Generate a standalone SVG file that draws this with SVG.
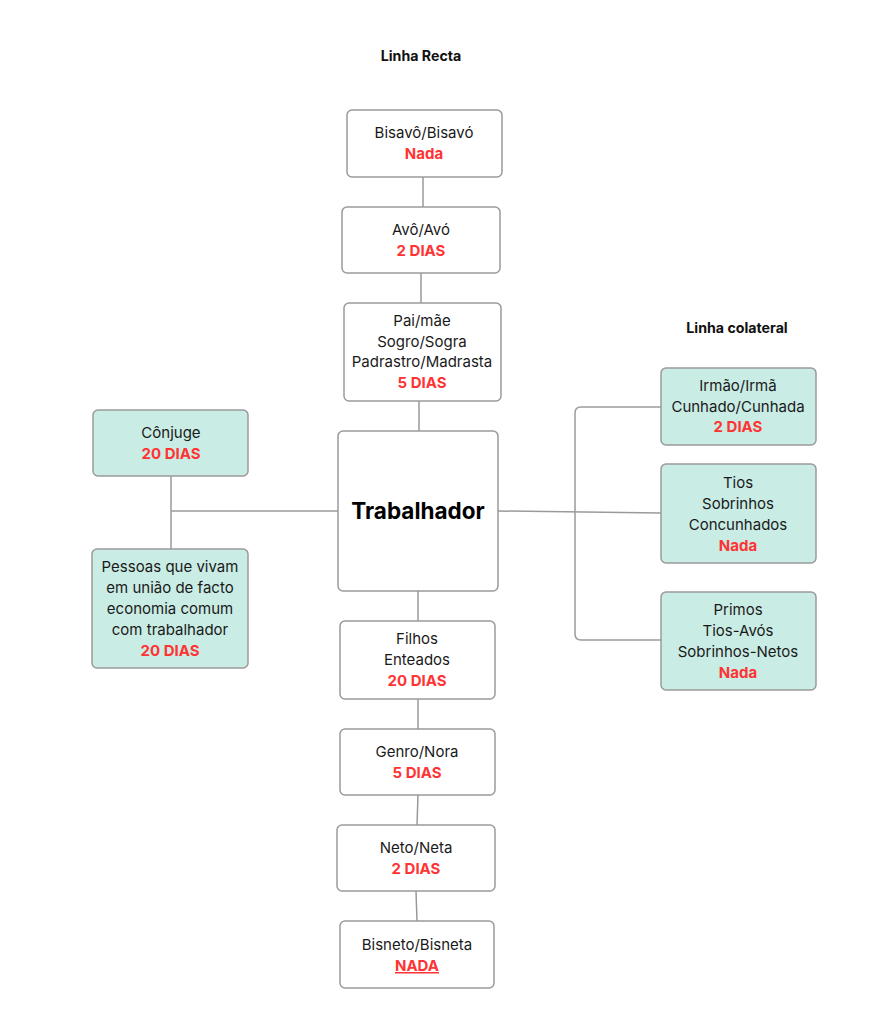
<svg xmlns="http://www.w3.org/2000/svg" width="895" height="1024" viewBox="0 0 895 1024">
<style>
text{font-family:Inter,"Liberation Sans",sans-serif;font-size:15px;fill:#1a1a1a;text-anchor:middle}
.r{fill:#ff3333;font-weight:bold}
.h{font-weight:bold;font-size:14.2px;fill:#111}
.t{font-weight:bold;font-size:22.5px;fill:#000}
.box{fill:#fff;stroke:#9a9a9a;stroke-width:1.5}
.g{fill:#c9ece4;stroke:#9a9a9a;stroke-width:1.5}
#connectors path,#connectors line{stroke:#9a9a9a;stroke-width:1.5;fill:none}
</style>
<rect width="895" height="1024" fill="#fff"/>
<text class="h" x="421" y="61">Linha Recta</text>
<text class="h" x="737" y="333">Linha colateral</text>
<g id="connectors">
<line x1="423" y1="177" x2="423" y2="207"/>
<line x1="421" y1="273" x2="421" y2="303"/>
<line x1="419" y1="401" x2="419" y2="431"/>
<line x1="418" y1="591" x2="418" y2="621"/>
<line x1="418" y1="699" x2="418" y2="729"/>
<line x1="418" y1="795" x2="417" y2="825"/>
<line x1="416" y1="891" x2="417" y2="921"/>
<line x1="171" y1="476" x2="171" y2="549"/>
<line x1="171" y1="511" x2="338" y2="511"/>
<line x1="498" y1="511" x2="661" y2="513"/>
<path d="M661 407 H581 Q575 407 575 413 V634 Q575 640 581 640 H661"/>
</g>
<g id="bisavo"><rect class="box" x="347" y="110" width="155" height="67" rx="5"/><text x="424" y="138">Bisavô/Bisavó</text><text class="r" x="424" y="159">Nada</text></g>
<g id="avo"><rect class="box" x="342" y="207" width="158" height="66" rx="5"/><text x="421" y="235">Avô/Avó</text><text class="r" x="421" y="256">2 DIAS</text></g>
<g id="pai"><rect class="box" x="344" y="303" width="157" height="98" rx="5"/><text x="422" y="326">Pai/mãe</text><text x="422" y="347">Sogro/Sogra</text><text x="422" y="367">Padrastro/Madrasta</text><text class="r" x="422" y="388">5 DIAS</text></g>
<g id="trabalhador"><rect class="box" x="338" y="431" width="160" height="160" rx="5"/><text class="t" x="418" y="519">Trabalhador</text></g>
<g id="filhos"><rect class="box" x="340" y="621" width="155" height="78" rx="5"/><text x="417" y="644">Filhos</text><text x="417" y="665">Enteados</text><text class="r" x="417" y="686">20 DIAS</text></g>
<g id="genro"><rect class="box" x="340" y="729" width="155" height="66" rx="5"/><text x="417" y="757">Genro/Nora</text><text class="r" x="417" y="778">5 DIAS</text></g>
<g id="neto"><rect class="box" x="337" y="825" width="158" height="66" rx="5"/><text x="416" y="853">Neto/Neta</text><text class="r" x="416" y="874">2 DIAS</text></g>
<g id="bisneto"><rect class="box" x="340" y="921" width="154" height="67" rx="5"/><text x="417" y="950">Bisneto/Bisneta</text><text class="r" x="417" y="971" text-decoration="underline">NADA</text></g>
<g id="conjuge"><rect class="g" x="93" y="410" width="155" height="66" rx="5"/><text x="171" y="438">Cônjuge</text><text class="r" x="171" y="459">20 DIAS</text></g>
<g id="uniao"><rect class="g" x="92" y="549" width="156" height="119" rx="5"/><text x="170" y="572">Pessoas que vivam</text><text x="170" y="593">em união de facto</text><text x="170" y="614">economia comum</text><text x="170" y="635">com trabalhador</text><text class="r" x="170" y="656">20 DIAS</text></g>
<g id="irmao"><rect class="g" x="661" y="368" width="155" height="77" rx="5"/><text x="738" y="391">Irmão/Irmã</text><text x="738" y="412">Cunhado/Cunhada</text><text class="r" x="738" y="432">2 DIAS</text></g>
<g id="tios"><rect class="g" x="661" y="464" width="155" height="99" rx="5"/><text x="738" y="488">Tios</text><text x="738" y="509">Sobrinhos</text><text x="738" y="530">Concunhados</text><text class="r" x="738" y="551">Nada</text></g>
<g id="primos"><rect class="g" x="661" y="592" width="155" height="98" rx="5"/><text x="738" y="615">Primos</text><text x="738" y="636">Tios-Avós</text><text x="738" y="657">Sobrinhos-Netos</text><text class="r" x="738" y="678">Nada</text></g>
</svg>
